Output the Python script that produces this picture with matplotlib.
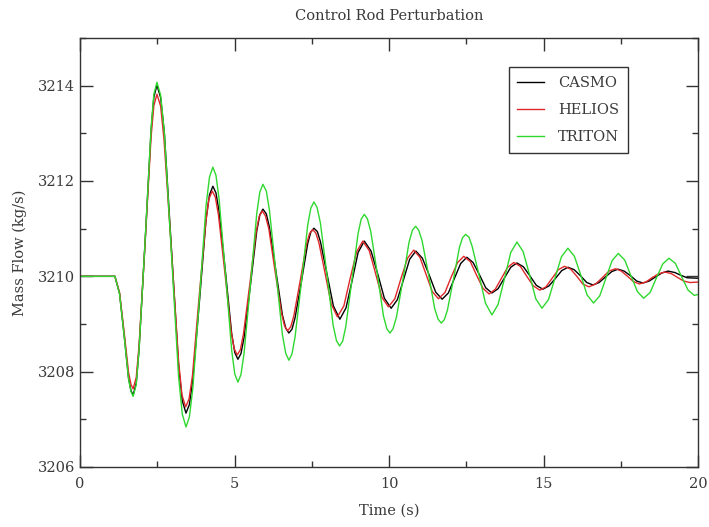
import numpy as np
import matplotlib
matplotlib.use("Agg")
import matplotlib.pyplot as plt
from matplotlib.ticker import MultipleLocator

# =============================================================================
# Data
# =============================================================================

series_names = ["CASMO", "HELIOS", "TRITON"]

casmo_t = [0.00, 1.13, 1.28, 1.43, 1.57, 1.65, 1.72, 1.82, 1.91, 2.11,
           2.30, 2.39, 2.49, 2.61, 2.73, 2.96, 3.19, 3.31, 3.43, 3.54,
           3.65, 3.87, 4.08, 4.19, 4.30, 4.40, 4.50, 4.71, 4.91, 5.01,
           5.11, 5.21, 5.31, 5.52, 5.72, 5.82, 5.92, 6.03, 6.13, 6.34,
           6.55, 6.66, 6.76, 6.86, 6.96, 7.17, 7.37, 7.47, 7.57, 7.68,
           7.78, 7.99, 8.20, 8.41, 8.61, 8.81,
           9.00, 9.20, 9.42, 9.64, 9.85, 10.07, 10.27, 10.47, 10.67, 10.87,
           11.08, 11.30, 11.51, 11.72, 11.92, 12.12, 12.32, 12.52, 12.72, 12.93,
           13.13, 13.33, 13.53, 13.74, 13.94, 14.14, 14.35, 14.56, 14.77, 14.98,
           15.18, 15.39, 15.59, 15.79, 15.99, 16.20, 16.40, 16.60, 16.80, 17.01,
           17.21, 17.41, 17.61, 17.82, 18.02, 18.22, 18.42, 18.63, 18.83, 19.03,
           19.25, 19.45, 19.65, 20.00]
casmo_v = [3210.00, 3210.00, 3209.64, 3208.76, 3207.87, 3207.60, 3207.51, 3207.76, 3208.46, 3210.76,
           3213.06, 3213.76, 3214.01, 3213.75, 3213.01, 3210.57, 3208.13, 3207.39, 3207.13, 3207.31,
           3207.83, 3209.51, 3211.20, 3211.71, 3211.89, 3211.75, 3211.36, 3210.08, 3208.79, 3208.40,
           3208.26, 3208.38, 3208.72, 3209.84, 3210.95, 3211.29, 3211.41, 3211.31, 3211.03, 3210.11,
           3209.19, 3208.91, 3208.81, 3208.89, 3209.13, 3209.91, 3210.69, 3210.93, 3211.01, 3210.94,
           3210.73, 3210.06, 3209.38, 3209.10, 3209.34, 3209.92,
           3210.50, 3210.74, 3210.53, 3210.04, 3209.54, 3209.33, 3209.51, 3209.93, 3210.36, 3210.53,
           3210.38, 3210.03, 3209.67, 3209.52, 3209.65, 3209.96, 3210.27, 3210.40, 3210.29, 3210.03,
           3209.76, 3209.65, 3209.74, 3209.97, 3210.19, 3210.28, 3210.20, 3210.01, 3209.81, 3209.73,
           3209.80, 3209.96, 3210.12, 3210.19, 3210.14, 3210.01, 3209.87, 3209.82, 3209.87, 3209.99,
           3210.10, 3210.15, 3210.11, 3210.01, 3209.90, 3209.86, 3209.90, 3209.99, 3210.07, 3210.11,
           3210.08, 3210.02, 3209.97, 3209.96]

helios_t = [0.00, 1.13, 1.28, 1.43, 1.57, 1.65, 1.72, 1.82, 1.91, 2.11,
            2.30, 2.39, 2.49, 2.61, 2.72, 2.96, 3.19, 3.30, 3.42, 3.53,
            3.64, 3.85, 4.07, 4.17, 4.28, 4.38, 4.48, 4.69, 4.89, 4.99,
            5.09, 5.19, 5.29, 5.50, 5.70, 5.80, 5.90, 6.00, 6.11, 6.31,
            6.52, 6.62, 6.72, 6.82, 6.92, 7.13, 7.33, 7.43, 7.53, 7.63,
            7.73, 7.93, 8.13, 8.33, 8.54, 8.74,
            8.95, 9.15, 9.36, 9.57, 9.77, 9.98, 10.19, 10.39, 10.60, 10.80,
            11.00, 11.20, 11.40, 11.60, 11.81, 12.01, 12.22, 12.42, 12.63, 12.83,
            13.04, 13.24, 13.44, 13.64, 13.84, 14.04, 14.25, 14.46, 14.67, 14.88,
            15.08, 15.28, 15.48, 15.68, 15.88, 16.08, 16.27, 16.47, 16.69, 16.90,
            17.12, 17.33, 17.52, 17.72, 17.91, 18.10, 18.31, 18.51, 18.72, 18.92,
            19.13, 19.33, 19.54, 19.74, 20.00]
helios_v = [3210.00, 3210.00, 3209.66, 3208.82, 3207.99, 3207.73, 3207.64, 3207.88, 3208.54, 3210.73,
            3212.92, 3213.58, 3213.82, 3213.57, 3212.86, 3210.54, 3208.22, 3207.51, 3207.26, 3207.43,
            3207.92, 3209.53, 3211.13, 3211.62, 3211.79, 3211.66, 3211.29, 3210.07, 3208.85, 3208.48,
            3208.35, 3208.46, 3208.79, 3209.86, 3210.93, 3211.26, 3211.37, 3211.27, 3211.00, 3210.12,
            3209.23, 3208.96, 3208.86, 3208.94, 3209.17, 3209.92, 3210.67, 3210.90, 3210.98, 3210.91,
            3210.71, 3210.07, 3209.42, 3209.15, 3209.38, 3209.95,
            3210.51, 3210.74, 3210.54, 3210.05, 3209.56, 3209.36, 3209.53, 3209.96, 3210.38, 3210.55,
            3210.40, 3210.04, 3209.68, 3209.53, 3209.66, 3209.98, 3210.29, 3210.42, 3210.31, 3210.03,
            3209.75, 3209.63, 3209.73, 3209.96, 3210.19, 3210.29, 3210.21, 3210.00, 3209.80, 3209.71,
            3209.78, 3209.96, 3210.14, 3210.21, 3210.15, 3210.00, 3209.84, 3209.78, 3209.84, 3209.97,
            3210.11, 3210.16, 3210.11, 3210.00, 3209.89, 3209.84, 3209.88, 3209.97, 3210.05, 3210.09,
            3210.06, 3209.98, 3209.90, 3209.87, 3209.88]

triton_t = [0.00, 1.13, 1.28, 1.43, 1.57, 1.65, 1.72, 1.82, 1.91, 2.11,
            2.30, 2.39, 2.49, 2.61, 2.73, 2.96, 3.19, 3.31, 3.43, 3.54,
            3.65, 3.87, 4.08, 4.19, 4.30, 4.40, 4.50, 4.71, 4.91, 5.01,
            5.11, 5.21, 5.31, 5.52, 5.72, 5.82, 5.92, 6.03, 6.13, 6.34,
            6.55, 6.66, 6.76, 6.86, 6.96, 7.17, 7.37, 7.47, 7.57, 7.67,
            7.78, 7.99, 8.19, 8.30, 8.40, 8.50, 8.60, 8.80, 9.00, 9.10,
            9.20, 9.30, 9.41, 9.62, 9.82, 9.93, 10.03, 10.13, 10.24, 10.45,
            10.65, 10.76, 10.86, 10.96, 11.07, 11.28, 11.48, 11.59, 11.69, 11.79,
            11.89, 12.09, 12.28, 12.38, 12.48, 12.59, 12.69, 12.91,
            13.12, 13.33, 13.53, 13.74, 13.94, 14.14, 14.34, 14.55, 14.75, 14.95,
            15.16, 15.37, 15.58, 15.79, 16.00, 16.21, 16.41, 16.62, 16.82, 17.02,
            17.22, 17.42, 17.63, 17.83, 18.04, 18.24, 18.45, 18.65, 18.86, 19.06,
            19.27, 19.47, 19.68, 19.88, 20.00]
triton_v = [3210.00, 3210.00, 3209.63, 3208.74, 3207.85, 3207.58, 3207.48, 3207.73, 3208.44, 3210.78,
            3213.11, 3213.82, 3214.07, 3213.80, 3213.01, 3210.46, 3207.90, 3207.11, 3206.84, 3207.05,
            3207.64, 3209.57, 3211.49, 3212.08, 3212.29, 3212.12, 3211.63, 3210.04, 3208.44, 3207.95,
            3207.78, 3207.94, 3208.39, 3209.86, 3211.32, 3211.77, 3211.93, 3211.79, 3211.39, 3210.09,
            3208.78, 3208.38, 3208.24, 3208.37, 3208.73, 3209.90, 3211.08, 3211.43, 3211.56, 3211.45,
            3211.12, 3210.05, 3208.98, 3208.65, 3208.54, 3208.64, 3208.94, 3209.92, 3210.90, 3211.20,
            3211.30, 3211.21, 3210.94, 3210.06, 3209.17, 3208.90, 3208.81, 3208.90, 3209.14, 3209.93,
            3210.72, 3210.97, 3211.05, 3210.97, 3210.75, 3210.04, 3209.32, 3209.10, 3209.02, 3209.09,
            3209.29, 3209.95, 3210.61, 3210.81, 3210.88, 3210.82, 3210.63, 3210.04,
            3209.44, 3209.19, 3209.41, 3209.96, 3210.50, 3210.72, 3210.52, 3210.03, 3209.53, 3209.33,
            3209.51, 3209.96, 3210.41, 3210.59, 3210.42, 3210.02, 3209.61, 3209.44, 3209.59, 3209.96,
            3210.33, 3210.48, 3210.34, 3210.01, 3209.68, 3209.54, 3209.66, 3209.96, 3210.26, 3210.38,
            3210.27, 3209.99, 3209.71, 3209.60, 3209.62]

# =============================================================================
# Plot
# =============================================================================

TEXT_COLOR = "#3a3a3a"
plt.rcParams["font.family"] = ["DejaVu Serif"]
plt.rcParams["font.size"] = 10

fig = plt.figure(figsize=(7.09, 5.27), dpi=100)
ax = fig.add_axes([80 / 709, 60 / 527, 618 / 709, 429 / 527])

ax.plot(casmo_t, casmo_v, color="black", lw=1.0, label=series_names[0])
ax.plot(helios_t, helios_v, color="#e0282a", lw=1.0, label=series_names[1])
ax.plot(triton_t, triton_v, color="#2fd82f", lw=1.0, label=series_names[2])

ax.set_xlim(0, 20)
ax.set_ylim(3206, 3215)
ax.xaxis.set_major_locator(MultipleLocator(5))
ax.xaxis.set_minor_locator(MultipleLocator(2.5))
ax.yaxis.set_major_locator(MultipleLocator(2))
ax.yaxis.set_minor_locator(MultipleLocator(1))
ax.tick_params(which="both", direction="in", top=True, right=True,
               colors="#333333", labelcolor=TEXT_COLOR, labelsize=10.5)
ax.tick_params(which="major", length=9, width=1)
ax.tick_params(which="minor", length=4.5, width=1)
ax.tick_params(axis="x", which="major", pad=7)
for sp in ax.spines.values():
    sp.set_color("#333333")
    sp.set_linewidth(1.0)

ax.set_title("Control Rod Perturbation", color=TEXT_COLOR, fontsize=10.5, pad=13)
ax.set_xlabel("Time (s)", color=TEXT_COLOR, fontsize=10.5, labelpad=9)
ax.set_ylabel("Mass Flow (kg/s)", color=TEXT_COLOR, fontsize=10.5, labelpad=8)

leg = ax.legend(loc="upper right", bbox_to_anchor=(0.887, 0.932), borderaxespad=0,
                fancybox=False, edgecolor="#333333", framealpha=1, fontsize=10.5,
                labelspacing=0.9, handlelength=1.8, handletextpad=1.0, borderpad=0.6)
for txt in leg.get_texts():
    txt.set_color(TEXT_COLOR)

fig.savefig("out.png", dpi=100)
